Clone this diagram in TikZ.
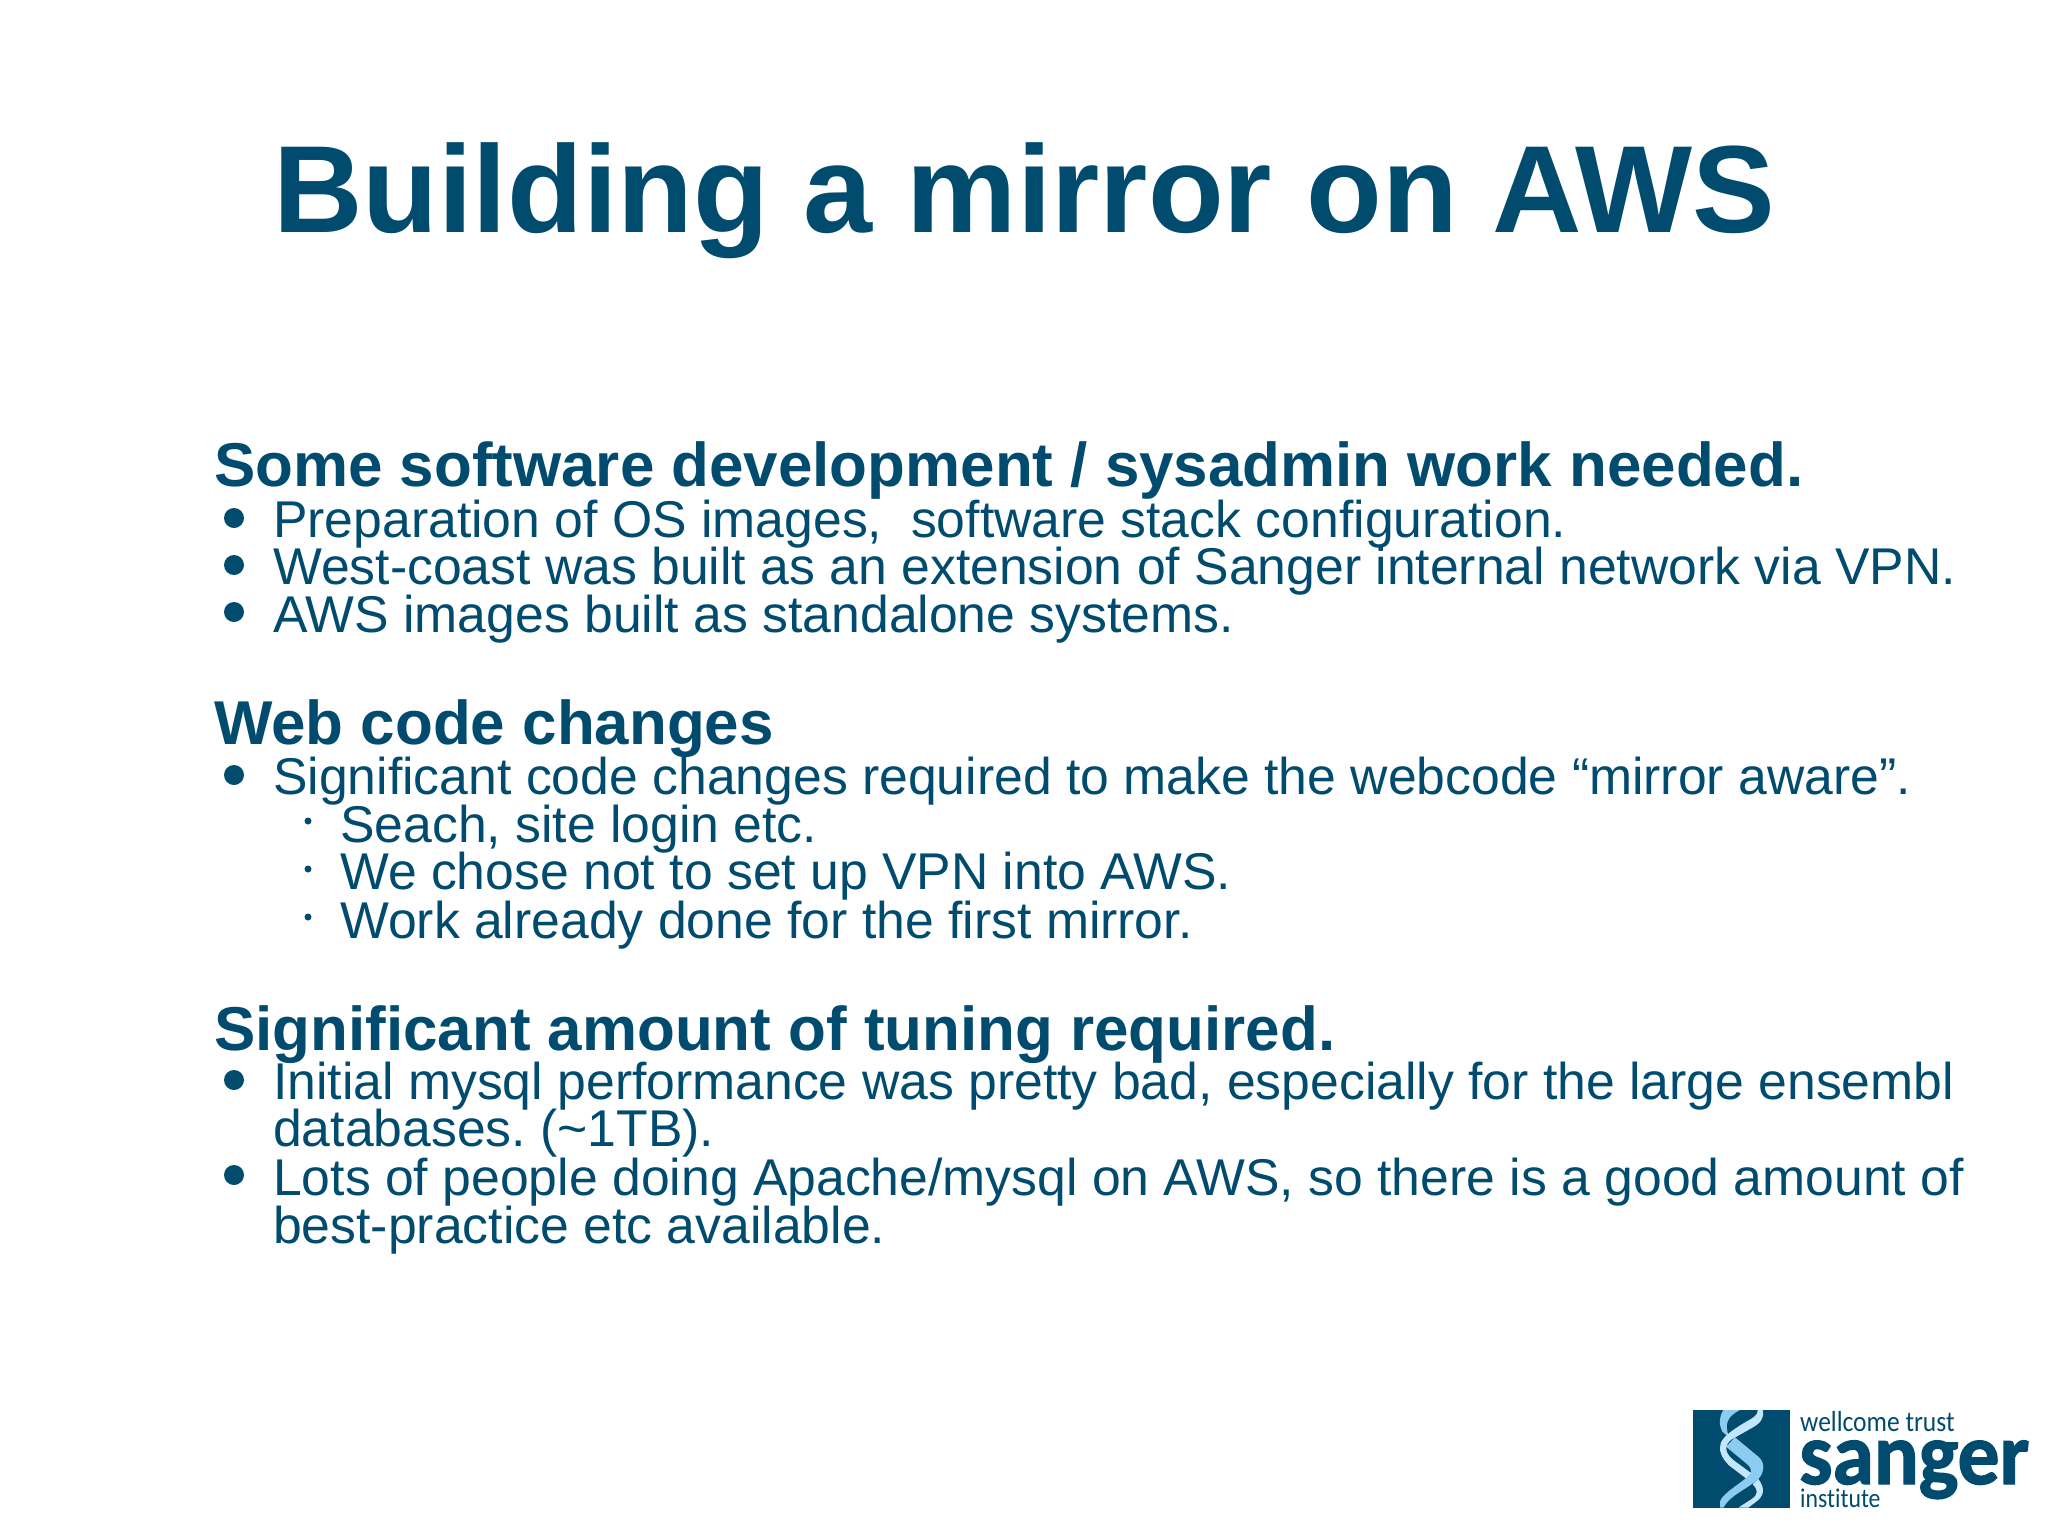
\documentclass[tikz,border=0pt]{standalone}
\usepackage{fontspec}
\setmainfont{Liberation Sans}
\newfontfamily\logofont[FakeStretch=0.88,Ligatures=NoCommon]{Carlito}
\newfontfamily\logobold[FakeStretch=0.95,FakeBold=1.5]{Carlito Bold}
\definecolor{sangerblue}{HTML}{004B6E}
\definecolor{helixpale}{HTML}{C4E6FA}
\definecolor{helixsky}{HTML}{8CCBF2}
\usetikzlibrary{positioning}
\tikzset{
  x=1pt,y=-1pt,
  every node/.style={text=sangerblue,inner sep=0pt,anchor=base west},
  titletext/.style={font=\bfseries\fontsize{124}{124}\selectfont},
  headtext/.style={font=\bfseries\fontsize{61.9}{62}\selectfont},
  bodytext/.style={font=\fontsize{51.7}{52}\selectfont},
  bigdot/.style={circle,fill=sangerblue,minimum size=20pt,anchor=center},
  smalldot/.style={circle,fill=sangerblue,minimum size=7pt,anchor=center}
}
\begin{document}
\begin{tikzpicture}
\useasboundingbox (0,0) rectangle (2048,1535);
\node[titletext] at (273,232) (title) {Building a mirror on AWS};

\node[headtext] at (214,486) (headone) {Some software development / sysadmin work needed.};
\node[bigdot] at (234,518) (dotone) {};
\node[bodytext] at (273,537) (lineone) {Preparation of OS images,\ \ software stack configuration.};
\node[bigdot] at (234,565) (dottwo) {};
\node[bodytext] at (273,584) (linetwo) {West-coast was built as an extension of Sanger internal network via VPN.};
\node[bigdot] at (234,612) (dotthree) {};
\node[bodytext] at (273,632) (linethree) {AWS images built as standalone systems.};

\node[headtext] at (214,744) (headtwo) {Web code changes};
\node[bigdot] at (234,775) (dotfour) {};
\node[bodytext] at (273,794) (linefour) {Significant code changes required to make the webcode “mirror aware”.};
\node[smalldot] at (308,821) (subdotone) {};
\node[bodytext] at (340,842) (subone) {Seach, site login etc.};
\node[smalldot] at (308,869) (subdottwo) {};
\node[bodytext] at (340,889) (subtwo) {We chose not to set up VPN into AWS.};
\node[smalldot] at (308,917) (subdotthree) {};
\node[bodytext] at (340,938) (subthree) {Work already done for the first mirror.};

\node[headtext] at (214,1050) (headthree) {Significant amount of tuning required.};
\node[bigdot] at (234,1080) (dotfive) {};
\node[bodytext] at (273,1099) (linefive) {Initial mysql performance was pretty bad, especially for the large ensembl};
\node[bodytext] at (273,1146) (linesix) {databases.\ (\textasciitilde1TB).};
\node[bigdot] at (234,1175) (dotsix) {};
\node[bodytext] at (273,1195) (lineseven) {Lots of people doing Apache/mysql on AWS, so there is a good amount of};
\node[bodytext] at (273,1243) (lineeight) {best-practice etc available.};

% logo
\fill[sangerblue] (1693,1410) rectangle (1790,1508);
\begin{scope}[shift={(1690,1405)},x=0.3333pt,y=-0.3333pt]
\fill[helixsky] (100,15) -- (150,15) .. controls (115,32) and (100,55) .. (118,98) -- (97,80) .. controls (85,55) and (88,35) .. (100,15);
\fill[helixsky] (135,97) -- (205,155) .. controls (225,172) and (225,200) .. (205,222) .. controls (175,250) and (120,270) .. (100,308) -- (90,308) -- (90,290) .. controls (95,270) and (135,245) .. (165,222) .. controls (185,205) and (190,195) .. (172,178) -- (108,125) -- cycle;
\fill[helixpale] (203,15) -- (218,15) .. controls (224,40) and (212,55) .. (180,72) -- (125,103) .. controls (105,118) and (100,140) .. (130,165) -- (183,204) -- (168,220) -- (118,182) .. controls (95,160) and (85,135) .. (92,115) .. controls (100,95) and (120,80) .. (160,55) .. controls (190,38) and (205,30) .. (203,15) -- cycle;
\fill[helixpale] (205,222) .. controls (222,245) and (225,265) .. (205,285) -- (175,308) -- (145,308) -- (185,282) .. controls (205,268) and (205,255) .. (188,238) -- cycle;
\end{scope}
\node[font=\logofont\fontsize{29}{29}\selectfont] at (1800,1431) (logotop) {wellcome trust};
\node[font=\logobold\fontsize{88}{88}\selectfont] at (1799,1484) (logomid) {sanger};
\node[font=\logofont\fontsize{27}{27}\selectfont] at (1800,1507) (logolow) {institute};
\end{tikzpicture}
\end{document}
